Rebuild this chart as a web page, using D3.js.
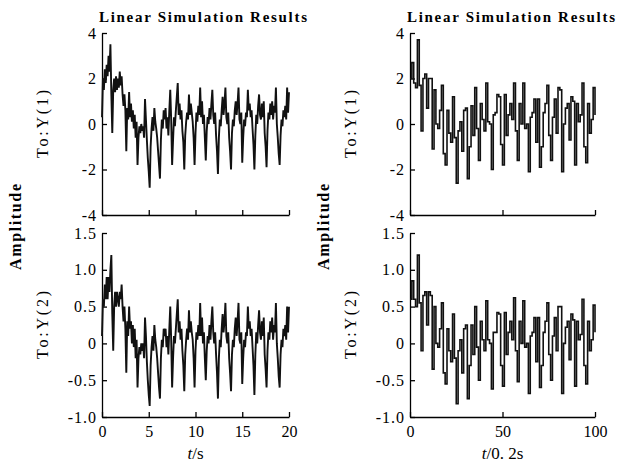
<!DOCTYPE html>
<html>
<head>
<meta charset="utf-8">
<script src="https://cdn.jsdelivr.net/npm/d3@7"></script>
<style>
  body { margin: 0; background: #fff; }
  .tick text { font-family: "Liberation Serif", serif; }
</style>
</head>
<body>
<div id="vis"></div>
<script>
// continuous response, one value every 0.1 s from 0 to 20 s
const Y1_CONT = [
  0.3, 2.0, 1.5, 2.4, 1.8, 2.6, 2.1, 3.0, 2.3, 3.5,
  1.3, -0.4, 1.5, 2.0, 1.4, 2.1, 1.5, 2.0, 1.6, 2.3,
  1.7, 2.1, 1.3, 0.8, 1.3, 0.6, -1.2, 0.7, 0.2, 1.4,
  0.3, 0.9, 0.1, 0.6, -0.2, 0.4, -0.6, 0.1, -1.8, -0.6,
  -0.1, -0.4, 0.0, -0.3, -0.1, -0.6, 1.1, 0.2, -0.7, -1.5,
  -2.1, -2.8, -1.0, -0.2, 0.3, -0.3, 0.7, 0.1, -0.2, -0.6,
  -1.2, -1.8, -2.4, -0.7, 0.2, -0.2, 0.6, 0.2, 0.7, -0.2,
  0.3, -0.5, 0.6, 1.5, 0.2, -1.8, -0.7, 0.3, -0.1, 0.6,
  1.2, 1.8, 0.4, 0.9, 0.2, 0.6, -0.3, -0.8, -2.0, -0.5,
  0.1, 0.5, 0.2, 1.3, 0.4, 0.9, 0.5, 0.1, -0.6, -1.8,
  -0.4, 0.5, 0.1, 0.8, 0.4, 1.6, 0.3, 1.0, 0.0, 0.4,
  -0.6, -1.6, -0.3, 0.3, 0.0, 0.7, 0.2, 0.9, 1.5, 0.4,
  0.0, 0.5, -0.5, -1.2, -2.2, -0.6, 0.2, -0.1, 0.6, 1.2,
  0.4, 0.9, 1.6, 0.3, 0.0, 0.5, -0.6, -1.2, -2.0, -0.4,
  0.2, -0.1, 0.6, 1.0, 0.4, 0.9, 1.6, 0.2, 0.0, 0.5,
  -1.7, -0.6, 0.2, -0.1, 0.5, 0.3, 1.5, 0.6, 0.9, 0.3,
  0.6, -0.2, -0.9, -2.0, -0.5, 0.4, 0.0, 0.8, 1.3, 0.4,
  0.2, 0.9, 0.3, 1.0, -0.4, -1.0, -1.9, -0.3, 0.5, 0.2,
  0.9, 0.4, 1.0, 0.2, 0.8, 0.5, 1.6, 0.0, -0.6, -1.3,
  -1.8, -0.5, 0.2, -0.1, 0.6, 0.3, 0.8, 0.2, 1.6, 0.5,
  1.4
];
const Y2_CONT = [
  0.1, 0.6, 0.5, 0.8, 0.6, 0.9, 0.6, 0.9, 0.7, 1.0,
  1.2, 0.4, -0.1, 0.5, 0.7, 0.5, 0.7, 0.6, 0.5, 0.7,
  0.6, 0.8, 0.5, 0.3, 0.5, 0.2, -0.4, 0.3, 0.1, 0.5,
  0.2, 0.3, 0.0, 0.25, -0.05, 0.2, -0.2, 0.05, -0.6, -0.2,
  -0.05, -0.15, 0.0, -0.1, 0.0, -0.2, 0.35, 0.1, -0.25, -0.5,
  -0.7, -0.85, -0.3, -0.05, 0.1, -0.1, 0.25, 0.05, -0.05, -0.2,
  -0.4, -0.6, -0.75, -0.2, 0.05, -0.05, 0.2, 0.1, 0.2, -0.05,
  0.1, -0.15, 0.2, 0.5, 0.05, -0.6, -0.2, 0.1, 0.0, 0.2,
  0.4, 0.6, 0.15, 0.3, 0.05, 0.2, -0.1, -0.3, -0.65, -0.15,
  0.05, 0.2, 0.05, 0.45, 0.15, 0.3, 0.15, 0.05, -0.2, -0.6,
  -0.1, 0.15, 0.05, 0.25, 0.1, 0.55, 0.1, 0.35, 0.0, 0.15,
  -0.2, -0.5, -0.1, 0.1, 0.0, 0.25, 0.05, 0.3, 0.5, 0.15,
  0.0, 0.15, -0.15, -0.4, -0.75, -0.2, 0.05, -0.05, 0.2, 0.4,
  0.15, 0.3, 0.55, 0.1, 0.0, 0.15, -0.2, -0.4, -0.65, -0.15,
  0.05, -0.05, 0.2, 0.35, 0.1, 0.3, 0.55, 0.05, 0.0, 0.15,
  -0.55, -0.2, 0.05, -0.05, 0.15, 0.1, 0.5, 0.2, 0.3, 0.1,
  0.2, -0.05, -0.3, -0.7, -0.15, 0.15, 0.0, 0.25, 0.45, 0.15,
  0.05, 0.3, 0.1, 0.35, -0.15, -0.35, -0.6, -0.1, 0.15, 0.05,
  0.3, 0.15, 0.35, 0.05, 0.25, 0.15, 0.55, 0.0, -0.2, -0.45,
  -0.6, -0.15, 0.05, -0.05, 0.2, 0.1, 0.25, 0.05, 0.5, 0.15,
  0.5
];
// discrete response, samples k = 0..100 (T = 0.2 s)
const Y1_DISC = [
  2.0, 2.7, 1.8, 1.6, 3.7, 1.7, -0.3, 2.0, 2.2, 0.7,
  2.0, 2.0, -1.1, 1.5, 0.0, -0.2, 0.6, 1.7, -1.3, -1.8,
  0.6, -0.4, -0.8, 1.2, -0.6, -2.6, -0.3, 0.1, -1.2, 0.6,
  0.7, -2.4, -1.0, 0.8, -0.5, 1.6, -0.2, -1.6, 0.9, 0.2,
  -0.3, 1.8, 0.1, 0.0, -2.0, 0.4, 0.5, 1.3, 1.2, -0.9,
  -1.8, 1.3, -0.5, 0.4, 0.9, 0.2, 1.8, -0.3, -1.6, 0.9,
  0.0, 1.8, -0.2, 0.0, -2.1, 0.3, 0.5, 1.1, -0.8, 1.1,
  -1.9, -1.0, 0.5, 0.9, 1.7, -0.5, -1.6, 0.3, 1.1, -0.4,
  1.6, 1.5, -2.1, 0.0, 0.7, 0.9, -0.7, 1.2, 1.0, -1.8,
  0.9, 0.1, 0.4, 1.8, -1.0, -1.7, 0.9, -0.4, 0.2, 1.6,
  0.4
];
const Y2_DISC = [
  0.6, 0.85, 0.6, 0.5, 1.2, 0.55, -0.1, 0.65, 0.7, 0.25,
  0.7, 0.65, -0.35, 0.5, 0.0, -0.05, 0.2, 0.55, -0.4, -0.55,
  0.2, -0.1, -0.25, 0.4, -0.2, -0.82, -0.1, 0.05, -0.4, 0.2,
  0.25, -0.75, -0.3, 0.25, -0.15, 0.5, -0.05, -0.5, 0.3, 0.05,
  -0.1, 0.58, 0.05, 0.0, -0.62, 0.15, 0.15, 0.42, 0.4, -0.3,
  -0.58, 0.42, -0.15, 0.15, 0.3, 0.05, 0.62, -0.1, -0.52, 0.3,
  0.0, 0.58, -0.05, 0.0, -0.68, 0.1, 0.15, 0.35, -0.25, 0.35,
  -0.6, -0.3, 0.15, 0.3, 0.55, -0.15, -0.5, 0.1, 0.35, -0.1,
  0.5, 0.5, -0.68, 0.0, 0.22, 0.3, -0.22, 0.4, 0.32, -0.58,
  0.3, 0.05, 0.12, 0.6, -0.3, -0.55, 0.3, -0.1, 0.05, 0.52,
  0.15
];

const CONT_STEP = 0.1;
const DISC_STEP = 1;
const TITLE = "Linear Simulation Results";
const Y1_TICKS = [-4, -2, 0, 2, 4];
const Y2_TICKS = [-1, -0.5, 0, 0.5, 1, 1.5];
const CONT_TICKS = [0, 5, 10, 15, 20];
const DISC_TICKS = [0, 50, 100];

const WIDTH = 641, HEIGHT = 468;

const svg = d3.select("#vis")
  .append("svg")
    .attr("width", WIDTH)
    .attr("height", HEIGHT);

// two columns (continuous / discrete), two rows (outputs)
const COLS = [
  {left: 102, right: 289, domain: [0, 20], ticks: CONT_TICKS, step: CONT_STEP,
   series: [Y1_CONT, Y2_CONT], curve: d3.curveLinear, width: 1.9, xlab: ["t", "/s"]},
  {left: 410, right: 595, domain: [0, 100], ticks: DISC_TICKS, step: DISC_STEP,
   series: [Y1_DISC, Y2_DISC], curve: d3.curveStepAfter, width: 1.6, xlab: ["t", "/0. 2s"]}
];
const ROWS = [
  {top: 33, bottom: 215, domain: [-4, 4], ticks: Y1_TICKS, name: "To:Y(1)",
   fmt: d => String(d)},
  {top: 233, bottom: 417, domain: [-1, 1.5], ticks: Y2_TICKS, name: "To:Y(2)",
   fmt: d => d === 0 ? "0" : d3.format(".1f")(d).replace("−", "-")}
];

COLS.forEach(col => {
  const x = d3.scaleLinear().domain(col.domain).range([col.left, col.right]);

  // title
  svg.append("text")
    .attr("x", col.left - 3)
    .attr("y", 22)
    .attr("textLength", 208)
    .attr("font-family", "Liberation Serif, serif")
    .attr("font-size", 15)
    .attr("font-weight", "bold")
    .text(TITLE);

  // Amplitude label
  svg.append("text")
    .attr("transform", `translate(${col.left - 81},227) rotate(-90)`)
    .attr("text-anchor", "middle")
    .attr("textLength", 86)
    .attr("font-family", "Liberation Serif, serif")
    .attr("font-size", 16)
    .attr("font-weight", "bold")
    .text("Amplitude");

  ROWS.forEach((row, r) => {
    const y = d3.scaleLinear().domain(row.domain).range([row.bottom, row.top]);
    const g = svg.append("g");

    // x axis with inward ticks
    const xa = g.append("g")
      .attr("transform", `translate(0,${row.bottom})`)
      .call(d3.axisBottom(x).tickValues(col.ticks).tickSizeInner(-5).tickSizeOuter(0)
        .tickPadding(9).tickFormat(r === 1 ? d3.format("d") : ""));
    xa.selectAll(".tick text")
      .attr("font-family", "Liberation Sans, Arial, sans-serif")
      .attr("font-size", 16)
      .attr("fill", "#000");

    // y axis with inward ticks
    const ya = g.append("g")
      .attr("transform", `translate(${col.left},0)`)
      .call(d3.axisLeft(y).tickValues(row.ticks).tickSizeInner(-5).tickSizeOuter(0)
        .tickPadding(5).tickFormat(row.fmt));
    ya.selectAll(".tick text")
      .attr("font-size", 16)
      .attr("letter-spacing", 1)
      .attr("fill", "#000");

    g.selectAll(".domain, .tick line").attr("stroke", "#000").attr("stroke-width", 1.3);

    // output label
    svg.append("text")
      .attr("transform", `translate(${col.left - 54},${(row.top + row.bottom) / 2}) rotate(-90)`)
      .attr("text-anchor", "middle")
      .attr("textLength", 68)
      .attr("font-family", "Liberation Serif, serif")
      .attr("font-size", 16)
      .text(row.name);

    // response trace
    const line = d3.line()
      .x((d, i) => x(i * col.step))
      .y(d => y(d))
      .curve(col.curve);
    g.append("path")
      .datum(col.series[r])
      .attr("d", line)
      .attr("fill", "none")
      .attr("stroke", "#111")
      .attr("stroke-width", col.width)
      .attr("stroke-linejoin", "miter");
  });

  // x axis label
  const xl = svg.append("text")
    .attr("x", (col.left + col.right) / 2)
    .attr("y", 459)
    .attr("text-anchor", "middle")
    .attr("font-family", "Liberation Serif, serif")
    .attr("font-size", 17);
  xl.append("tspan").attr("font-style", "italic").text(col.xlab[0]);
  xl.append("tspan").text(col.xlab[1]);
});
</script>
</body>
</html>
